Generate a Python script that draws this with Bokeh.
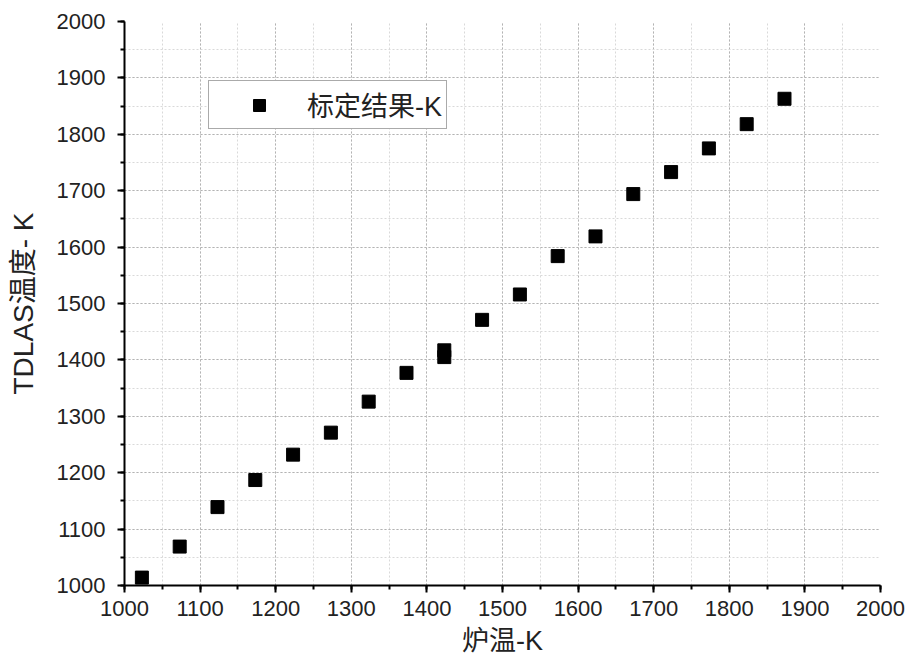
from bokeh.plotting import figure
from bokeh.models import (ColumnDataSource, Range1d, SingleIntervalTicker, Legend, LegendItem)
from bokeh.embed import file_html
from bokeh.resources import INLINE

# Data
furnace_temp = [1023, 1073, 1123, 1173, 1223, 1273, 1323, 1373, 1423, 1423,
                1473, 1523, 1573, 1623, 1673, 1723, 1773, 1823, 1873]
tdlas_temp = [1014, 1069, 1139, 1187, 1232, 1271, 1326, 1377, 1417, 1405,
              1471, 1516, 1584, 1619, 1694, 1733, 1775, 1818, 1863]
series_name = "标定结果-K"
x_label = "炉温-K"
y_label = "TDLAS温度- K"

src = ColumnDataSource(dict(x=furnace_temp, y=tdlas_temp))

p = figure(width=913, height=671, output_backend="svg", toolbar_location=None,
           x_range=Range1d(1000, 2000), y_range=Range1d(1000, 2000),
           min_border_left=124, min_border_right=33, min_border_top=21,
           min_border_bottom=86)
p.outline_line_color = None
p.background_fill_color = "white"
p.border_fill_color = "white"

r = p.scatter("x", "y", source=src, marker="square", size=13,
              fill_color="black", line_color="black")

latin = "Liberation Sans, Noto Sans CJK SC"

for ax in (p.xaxis[0], p.yaxis[0]):
    ax.ticker = SingleIntervalTicker(interval=100, num_minor_ticks=2)
    ax.axis_line_width = 2
    ax.axis_line_color = "black"
    ax.major_tick_line_width = 2
    ax.major_tick_line_color = "black"
    ax.minor_tick_line_width = 2
    ax.minor_tick_line_color = "black"
    ax.major_tick_out = 7
    ax.major_tick_in = 0
    ax.minor_tick_out = 4
    ax.minor_tick_in = 0
    ax.major_label_text_font = latin
    ax.major_label_text_font_size = "22px"
    ax.major_label_text_color = "#222222"
    ax.axis_label_text_font = latin
    ax.axis_label_text_font_style = "normal"
    ax.axis_label_text_color = "#222222"

p.xaxis[0].axis_label = x_label
p.yaxis[0].axis_label = y_label
p.xaxis[0].axis_label_text_font_size = "27px"
p.yaxis[0].axis_label_text_font_size = "28px"
p.xaxis[0].major_label_standoff = 8
p.xaxis[0].axis_label_standoff = 7
p.yaxis[0].major_label_standoff = 12
p.yaxis[0].axis_label_standoff = 15

for g in (p.xgrid[0], p.ygrid[0]):
    g.grid_line_color = "#b3b3b3"
    g.grid_line_dash = "2 2"
    g.grid_line_width = 1
    g.minor_grid_line_color = "#d9d9d9"
    g.minor_grid_line_dash = "2 2"
    g.minor_grid_line_width = 1

legend = Legend(items=[LegendItem(label=series_name, renderers=[r])],
                location=(84, 456), orientation="vertical",
                padding=4, spacing=0, margin=0,
                glyph_width=92, glyph_height=30, label_standoff=2,
                label_height=30,
                label_text_font=latin,
                label_text_font_size="27px", label_text_color="#222222",
                border_line_color="#555555", border_line_width=1.5,
                background_fill_color="white", background_fill_alpha=1.0)
p.add_layout(legend, "center")

open("out.html", "w").write(file_html(p, INLINE))
